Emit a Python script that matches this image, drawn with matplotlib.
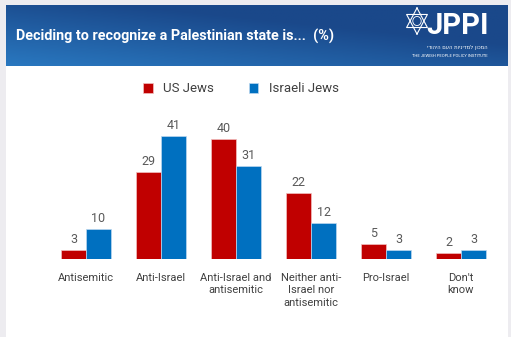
import matplotlib
matplotlib.use('Agg')
import matplotlib.pyplot as plt
import numpy as np
from matplotlib.patches import Rectangle

# data
categories = ['Antisemitic', 'Anti-Israel', 'Anti-Israel and\nantisemitic',
              'Neither anti-\nIsrael nor\nantisemitic', 'Pro-Israel', "Don't\nknow"]
us_jews = [3, 29, 40, 22, 5, 2]
israeli_jews = [10, 41, 31, 12, 3, 3]

RED = '#C00000'
BLUE = '#0070C0'
TXT = '#404040'

W, H = 511, 337
fig = plt.figure(figsize=(W / 100, H / 100), dpi=100)
fig.patch.set_facecolor('#EDECF0')

def px(x0, y0, x1, y1):
    # pixel box (from top-left) -> figure fraction rect
    return [x0 / W, 1 - y1 / H, (x1 - x0) / W, (y1 - y0) / H]

# white card (behind the axes)
fig.patches.append(Rectangle((6 / W, 0), (508 - 6) / W, 1 - 5 / H, zorder=-5,
                             transform=fig.transFigure, facecolor='white', edgecolor='none'))

# header band with gradient
hax = fig.add_axes(px(6, 5, 508, 66))
gx = np.linspace(0, 1, 200)
gy = np.linspace(0, 1, 40)
GX, GY = np.meshgrid(gx, gy)
c_light = np.array([0x2C, 0x80, 0xC9]) / 255
c_dark = np.array([0x1A, 0x48, 0x8A]) / 255
t2 = np.clip((1 - GX) * 0.6 + GY * 0.7 - 0.45, 0, 1)  # GY=0 at top
img = c_dark[None, None, :] * (1 - t2[..., None]) + c_light[None, None, :] * t2[..., None]
hax.imshow(img, aspect='auto', extent=[0, 1, 0, 1], origin='upper')
hax.set_xlim(0, 1)
hax.set_ylim(0, 1)
hax.axis('off')

fig.text(16 / W, 1 - 36 / H, 'Deciding to recognize a Palestinian state is...  (%)',
         color='white', fontsize=10.4, fontweight='bold', family='Roboto',
         ha='left', va='center')

# logo
lax = fig.add_axes(px(402, 6, 432, 36))
lax.set_xlim(-1.25, 1.25)
lax.set_ylim(-1.15, 1.15)
lax.axis('off')
for rot in (90, 270):
    a = np.deg2rad(np.array([rot, rot + 120, rot + 240, rot]))
    lax.plot(np.cos(a), np.sin(a), color='white', lw=0.8)
lax.add_patch(plt.Circle((0, 0), 0.35, fill=False, color='white', lw=0.6))
fig.text(458 / W, 1 - 26 / H, 'JPPI', color='white', fontsize=21, fontweight='bold',
         family='Roboto', ha='center', va='center')
fig.text(488 / W, 1 - 48 / H, 'המכון למדיניות העם היהודי'[::-1], color='white',
         fontsize=3.8, ha='right', va='center')
fig.text(488 / W, 1 - 56 / H, 'THE JEWISH PEOPLE POLICY INSTITUTE', color='white',
         fontsize=3.0, ha='right', va='center', family='Roboto')

# main chart
ax = fig.add_axes(px(6, 66, 508, 259))
ax.set_facecolor('none')
x = np.arange(len(categories))
bw = 1 / 3
b1 = ax.bar(x - bw / 2, us_jews, bw, color=RED, edgecolor='#f2c0c0', linewidth=0.5, label='US Jews')
b2 = ax.bar(x + bw / 2, israeli_jews, bw, color=BLUE, edgecolor='#bcd8f0', linewidth=0.5, label='Israeli Jews')
ax.bar_label(b1, padding=3, fontsize=9, color='#595959', family='Roboto')
ax.bar_label(b2, padding=3, fontsize=9, color='#595959', family='Roboto')

ax.set_xlim((6 - 86) / 75, (508 - 86) / 75)
ax.set_ylim(0, (259 - 66) / 3)
ax.set_xticks(x)
ax.set_xticklabels(categories, fontsize=8, color=TXT, family='Roboto', linespacing=1.3)
ax.tick_params(axis='x', length=0, pad=10)
ax.set_yticks([])
for s in ax.spines.values():
    s.set_visible(False)

fig.legend(handles=[b1, b2], loc='center', bbox_to_anchor=(241 / W, 1 - 89 / H), ncol=2,
           frameon=False, handlelength=0.75, handleheight=0.75, columnspacing=2.6,
           handletextpad=0.8, prop={'family': 'Roboto', 'size': 9.5}, labelcolor='#404040')

fig.savefig('out.png', dpi=100, facecolor=fig.get_facecolor())
